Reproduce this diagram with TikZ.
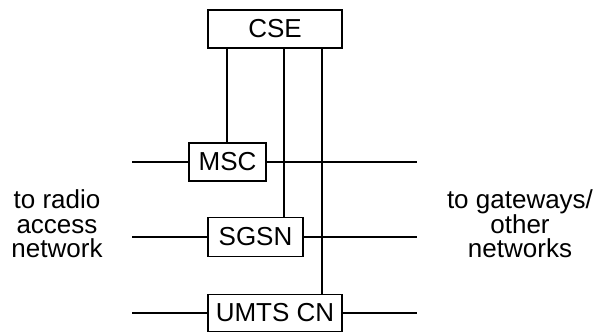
\documentclass[tikz,border=0pt]{standalone}
\usepackage{fontspec}
\setmainfont{Liberation Sans}
\begin{document}
\begin{tikzpicture}[x=1pt, y=-1pt, line width=2pt,
    box/.style={draw, line width=1.5pt, inner sep=0pt, minimum height=38pt, font=\fontsize{26}{26}\selectfont},
    side/.style={align=center, font=\fontsize{26}{24.5}\selectfont}]
    \useasboundingbox (0,0) rectangle (594,332);

    % Define the boxes
    \node[box, minimum width=134pt] (cse) at (275,29) {CSE};
    \node[box, minimum width=77pt] (msc) at (227.5,162) {MSC};
    \node[box, minimum width=95pt, minimum height=39pt] (sgsn) at (255.5,237) {SGSN};
    \node[box, minimum width=134pt, minimum height=37pt] (umts) at (275,313) {UMTS CN};

    % Free ends of the horizontal lines
    \coordinate (mscL) at (132,162);
    \coordinate (mscR) at (417,162);
    \coordinate (sgsnL) at (132,237);
    \coordinate (sgsnR) at (417,237);
    \coordinate (umtsL) at (132,313);
    \coordinate (umtsR) at (417,313);

    % Draw the horizontal lines
    \draw (mscL) -- (msc.west);
    \draw (msc.east) -- (mscR);
    \draw (sgsnL) -- (sgsn.west);
    \draw (sgsn.east) -- (sgsnR);
    \draw (umtsL) -- (umts.west);
    \draw (umts.east) -- (umtsR);

    % Draw the lines from the CSE
    \draw (cse.south -| 227,0) -- (msc.north -| 227,0);
    \draw (cse.south -| 284,0) -- (sgsn.north -| 284,0);
    \draw (cse.south -| 322,0) -- (umts.north -| 322,0);

    % Place the side labels
    \node[side] (ran) at (57,224) {to radio\\access\\network};
    \node[side] (gw) at (520,224) {to gateways/\\other\\networks};
\end{tikzpicture}
\end{document}
